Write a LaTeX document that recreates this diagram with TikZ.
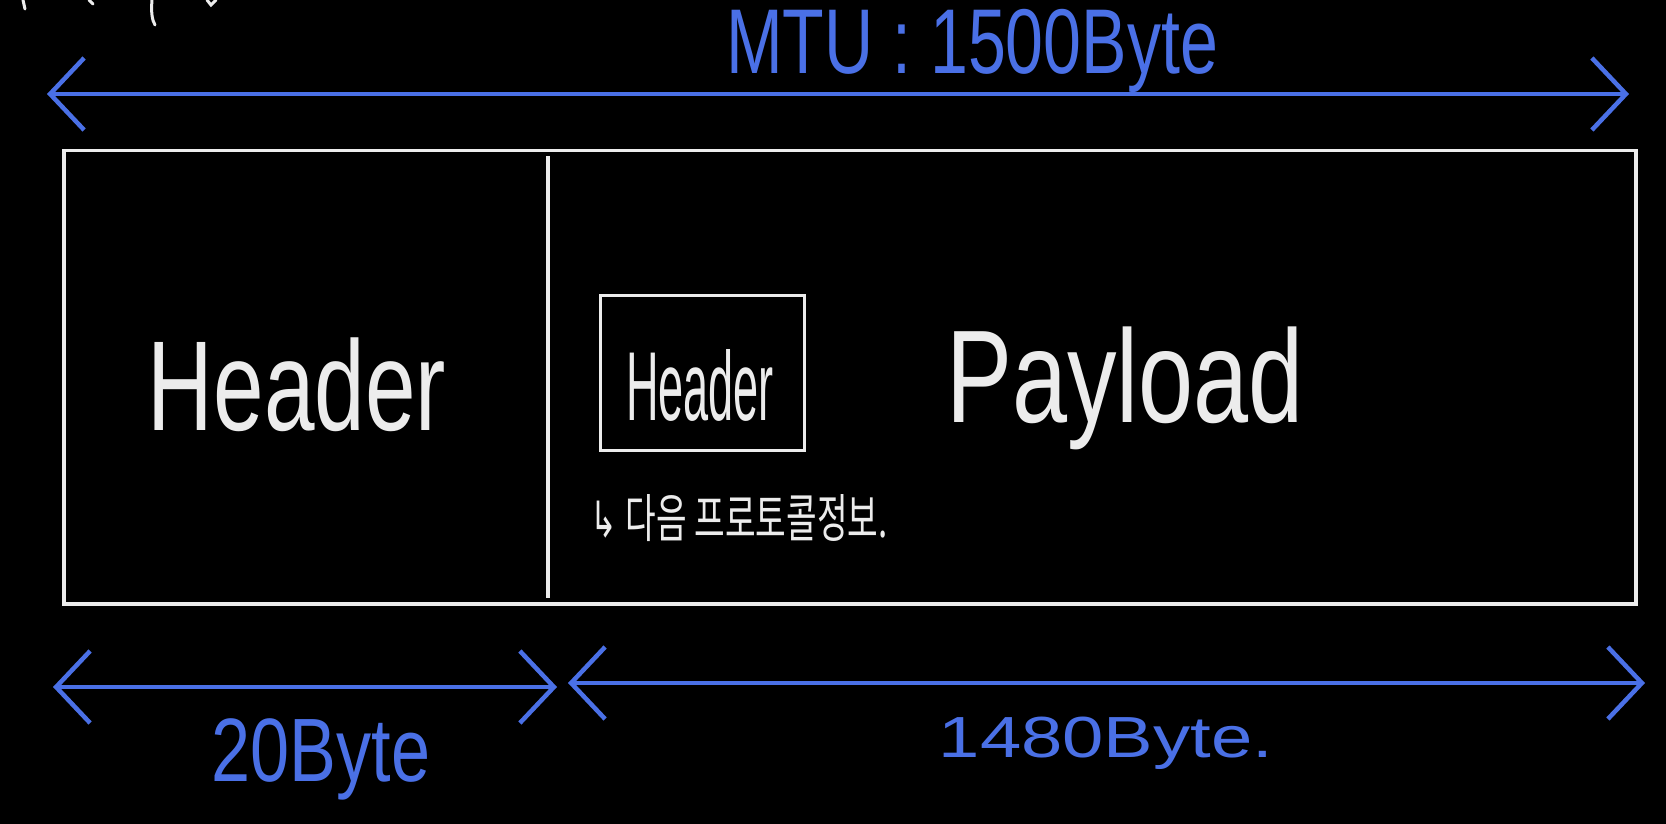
\documentclass[tikz,border=0pt]{standalone}
\usepackage{fontspec}
\setmainfont{Liberation Sans}
\newfontfamily\krfont{Noto Sans CJK KR}
\newfontfamily\symfont{DejaVu Sans}
\usetikzlibrary{arrows.meta}
\definecolor{pen}{RGB}{74,112,230}
\definecolor{chalk}{RGB}{236,236,236}
\newcommand\pxsize[1]{\fontsize{#1}{#1}\selectfont}
\tikzset{
  blueline/.style={draw=pen, line width=4.5pt, line cap=round, line join=round},
  barbs/.style={{Straight Barb[length=34pt,width=72pt]}-{Straight Barb[length=34pt,width=72pt]}},
  whiteline/.style={draw=chalk, line width=3.5pt},
  handtext/.style={inner sep=0pt, text=chalk},
  bluetext/.style={inner sep=0pt, text=pen},
}
\begin{document}
\begin{tikzpicture}[x=1pt,y=-1pt]
\fill[black] (0,0) rectangle (1666,824);
\useasboundingbox (0,0) rectangle (1666,824);

% cut-off strokes at the top-left
\draw[chalk, line width=3pt, line cap=round] (23,0) -- (25,9);
\draw[chalk, line width=3pt, line cap=round] (89,0) -- (93,4);
\draw[chalk, line width=3pt, line cap=round] (152,0) .. controls (151,12) and (152,20) .. (155,25);
\draw[chalk, line width=3pt, line cap=round] (207,0) -- (211,5) -- (216,0);

% MTU arrow
\coordinate (mtuL) at (47,94);
\coordinate (mtuR) at (1629,94);
\draw[blueline, barbs] (mtuL) -- (mtuR);
\node[bluetext, anchor=base, font=\pxsize{92}, xscale=0.74] (mtu) at (972,74) {MTU : 1500Byte};

% frame
\node[whiteline, anchor=north west, minimum width=1572pt, minimum height=453pt, inner sep=0pt] (frame) at (62,149) {};
\coordinate (divT) at (548,156);
\coordinate (divB) at (548,598);
\draw[whiteline] (divT) -- (divB);

% left header
\node[handtext, anchor=base, font=\pxsize{128}, xscale=0.71] (hdr) at (297,430) {Header};

% inner header box
\node[whiteline, draw=chalk, line width=3pt, anchor=north west, minimum width=204pt, minimum height=155pt, inner sep=0pt] (ibox) at (599,294) {};
\node[handtext, anchor=base, font=\pxsize{98}, xscale=0.46] (ihdr) at (700,420) {Header};

% payload
\node[handtext, anchor=base, font=\pxsize{132}, xscale=0.75] (pay) at (1125,422) {Payload};

% note
\node[handtext, anchor=west, xscale=0.64] (note) at (590,518) {{\symfont\pxsize{50}↳}\hspace{14pt}{\krfont\pxsize{52}다음 프로토콜정보.}};

% bottom arrows
\coordinate (hL) at (53,687);
\coordinate (hR) at (557,687);
\coordinate (pL) at (568,683);
\coordinate (pR) at (1645,683);
\draw[blueline, barbs] (hL) -- (hR);
\draw[blueline, barbs] (pL) -- (pR);
\node[bluetext, anchor=base, font=\pxsize{90}, xscale=0.78] (b20) at (321,781) {20Byte};
\node[bluetext, anchor=base, font=\pxsize{58}, xscale=1.28] (b1480) at (1106,757) {1480Byte.};
\end{tikzpicture}
\end{document}
